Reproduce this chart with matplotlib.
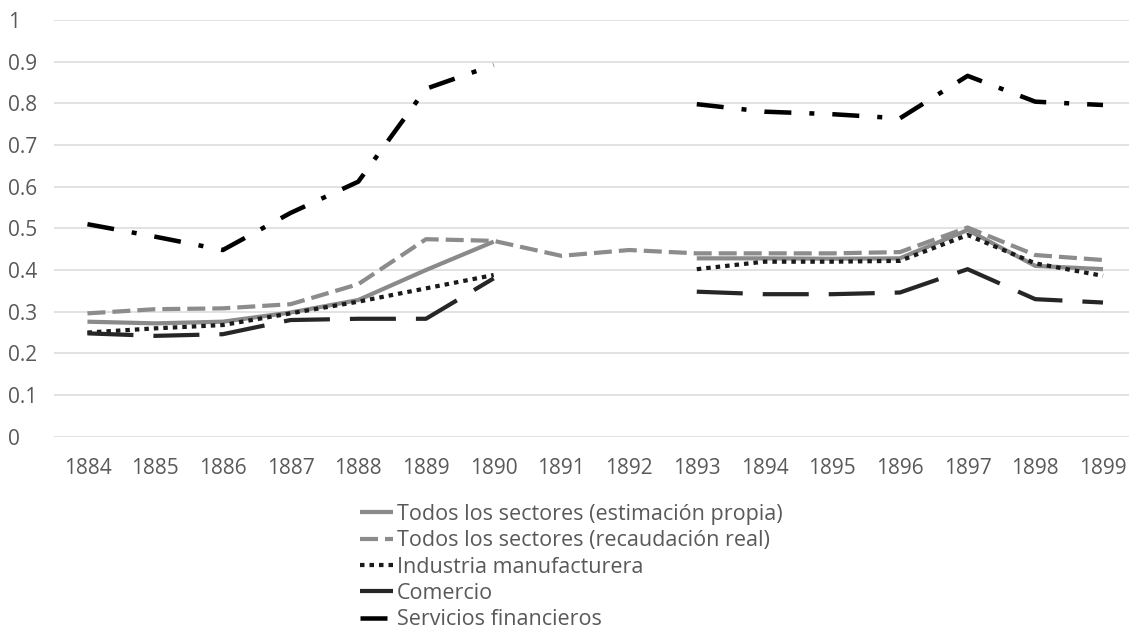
import numpy as np
import matplotlib
matplotlib.use("Agg")
import matplotlib.pyplot as plt

nan = np.nan
years = [str(y) for y in range(1884, 1900)]

estimacion = [0.276, 0.272, 0.276, 0.298, 0.328, 0.400, 0.468, nan, nan,
              0.428, 0.428, 0.427, 0.428, 0.496, 0.410, 0.402]
recaudacion = [0.296, 0.306, 0.308, 0.318, 0.366, 0.474, 0.470, 0.434, 0.448,
               0.440, 0.440, 0.440, 0.443, 0.502, 0.436, 0.424]
industria = [0.250, 0.260, 0.268, 0.296, 0.324, 0.356, 0.388, nan, nan,
             0.402, 0.420, 0.420, 0.422, 0.484, 0.416, 0.386]
comercio = [0.248, 0.242, 0.246, 0.280, 0.283, 0.283, 0.380, nan, nan,
            0.348, 0.342, 0.342, 0.346, 0.402, 0.330, 0.322]
servicios = [0.510, 0.480, 0.448, 0.537, 0.612, 0.835, 0.892, nan, nan,
             0.798, 0.780, 0.774, 0.764, 0.866, 0.804, 0.796]

labels = ["Todos los sectores (estimación propia)",
          "Todos los sectores (recaudación real)",
          "Industria manufacturera",
          "Comercio",
          "Servicios financieros"]

plt.rcParams['font.family'] = ['Open Sans', 'DejaVu Sans']
plt.rcParams['lines.scale_dashes'] = False

DPI = 100
W, H = 1129, 628
fig = plt.figure(figsize=(W / DPI, H / DPI), dpi=DPI)

left_px, zero_px, one_px = 53.6, 436.7, 20.0
ax = fig.add_axes([left_px / W, 1 - zero_px / H, 1 - left_px / W, (zero_px - one_px) / H])

x = np.arange(len(years))
pt = 72.0 / DPI  # points per pixel

def dash(*px):
    return (0, tuple(p * pt for p in px))

lw = 4.2 * pt
ax.plot(x, estimacion, color='#8a8a8a', lw=lw, solid_capstyle='butt', label=labels[0])
ax.plot(x, recaudacion, color='#8c8c8c', lw=lw, linestyle=dash(18, 7), dash_capstyle='butt', label=labels[1])
ax.plot(x, industria, color='#1a1a1a', lw=lw, linestyle=dash(4.5, 5), dash_capstyle='butt', label=labels[2])
ax.plot(x, comercio, color='#262626', lw=lw, linestyle=dash(46, 20), dash_capstyle='butt', label=labels[3])
ax.plot(x, servicios, color='#000000', lw=4.5 * pt, linestyle=dash(27, 18, 5, 18), dash_capstyle='butt', label=labels[4])

ax.set_ylim(0, 1)
ax.set_xlim(-0.5, (W - 87.5) / 67.7)
ax.set_yticks(np.arange(0, 1.01, 0.1))
ax.set_yticklabels(['0', '0.1', '0.2', '0.3', '0.4', '0.5', '0.6', '0.7', '0.8', '0.9', '1'])
ax.set_xticks(x)
ax.set_xticklabels(years)
ax.grid(axis='y', color='#d9d9d9', lw=1.5 * pt)
ax.set_axisbelow(True)
for s in ax.spines.values():
    s.set_visible(False)
ax.tick_params(axis='both', length=0, labelsize=15, labelcolor='#595959')
ax.tick_params(axis='x', pad=15)
ax.tick_params(axis='y', pad=45.6 * pt)
for t in ax.get_yticklabels():
    t.set_ha('left')

leg = fig.legend(loc='upper left', bbox_to_anchor=(360 / W, 1 - 504 / H),
                 frameon=False, fontsize=15.5, labelcolor='#595959',
                 handlelength=1.53, handletextpad=0.19, labelspacing=0.245,
                 borderpad=0, borderaxespad=0)

fig.savefig('out.png', dpi=DPI, facecolor='white')
